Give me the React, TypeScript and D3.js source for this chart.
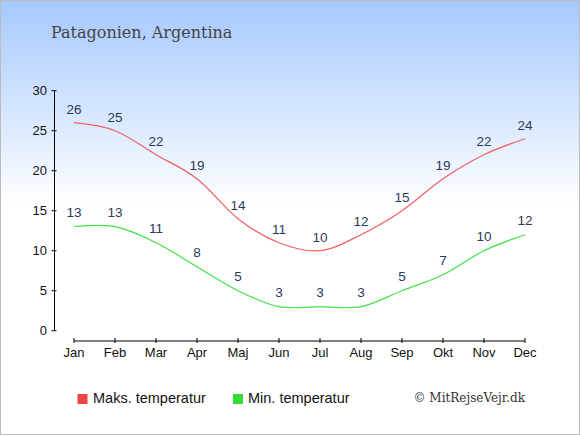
import React from "react";
import * as d3 from "d3";

const months = ["Jan", "Feb", "Mar", "Apr", "Maj", "Jun", "Jul", "Aug", "Sep", "Okt", "Nov", "Dec"];
const maxTemp = [26, 25, 22, 19, 14, 11, 10, 12, 15, 19, 22, 24];
const minTemp = [13, 13, 11, 8, 5, 3, 3, 3, 5, 7, 10, 12];
const yTicks = [0, 5, 10, 15, 20, 25, 30];

const width = 580;
const height = 435;

const x = d3.scalePoint<string>().domain(months).range([74, 525]);
const y = d3.scaleLinear().domain([0, 30]).range([330.7, 90.7]);

const line = d3
  .line<number>()
  .x((_, i) => x(months[i]) as number)
  .y((d) => y(d))
  .curve(d3.curveCardinal.tension(0));

const sans = "'Liberation Sans', Arial, sans-serif";
const serif = "'DejaVu Serif', serif";
const labelColor = "#2a3a58";

const App = () => {
  const axisX = 54.5;
  const axisY = 341;
  return (
    <div style={{ position: "absolute", left: 0, top: 0 }}>
      <svg width={width} height={height} style={{ display: "block" }}>
        <defs>
          <linearGradient id="bg" x1="0" y1="0" x2="0" y2="1">
            <stop offset="0" stopColor="#a4c8ff" />
            <stop offset="0.47" stopColor="#ffffff" />
            <stop offset="1" stopColor="#ffffff" />
          </linearGradient>
        </defs>
        <rect x={0.5} y={0.5} width={width - 1} height={height - 1} fill="url(#bg)" stroke="#bbbbbb" />

        <text x={51} y={38} fontFamily={serif} fontSize={16} fill="#444">
          Patagonien, Argentina
        </text>

        {/* y axis */}
        <line x1={axisX} x2={axisX} y1={y(30)} y2={y(0)} stroke="#000" />
        {yTicks.map((t) => (
          <g key={t}>
            <line x1={axisX - 3} x2={axisX + 2} y1={y(t)} y2={y(t)} stroke="#000" />
            <text x={47} y={y(t)} dy="0.35em" textAnchor="end" fontFamily={sans} fontSize={13} fill="#111">
              {t}
            </text>
          </g>
        ))}

        {/* x axis */}
        <line x1={x("Jan")} x2={x("Dec")} y1={axisY} y2={axisY} stroke="#000" />
        {months.map((m) => (
          <g key={m}>
            <line x1={x(m)} x2={x(m)} y1={axisY - 3} y2={axisY + 2} stroke="#000" />
            <text x={x(m)} y={axisY + 16} textAnchor="middle" fontFamily={sans} fontSize={13} fill="#111">
              {m}
            </text>
          </g>
        ))}

        <path d={line(maxTemp) || ""} fill="none" stroke="#f06060" strokeWidth={1.2} />
        <path d={line(minTemp) || ""} fill="none" stroke="#44e044" strokeWidth={1.2} />

        {maxTemp.map((v, i) => (
          <text key={"max" + i} x={x(months[i])} y={y(v) - 9} textAnchor="middle" fontFamily={sans} fontSize={13.5} fill={labelColor}>
            {v}
          </text>
        ))}
        {minTemp.map((v, i) => (
          <text key={"min" + i} x={x(months[i])} y={y(v) - 9.5} textAnchor="middle" fontFamily={sans} fontSize={13.5} fill={labelColor}>
            {v}
          </text>
        ))}

        {/* legend */}
        <rect x={77.5} y={394} width={10} height={10} fill="#ee4444" />
        <text x={93} y={403} fontFamily={sans} fontSize={14.5} fill="#111">
          Maks. temperatur
        </text>
        <rect x={233} y={394} width={10} height={10} fill="#33dd33" />
        <text x={248} y={403} fontFamily={sans} fontSize={14.5} fill="#111">
          Min. temperatur
        </text>

        <text x={525} y={402} textAnchor="end" fontFamily={serif} fontSize={12} fill="#333">
          © MitRejseVejr.dk
        </text>
      </svg>
    </div>
  );
};

export default App;
